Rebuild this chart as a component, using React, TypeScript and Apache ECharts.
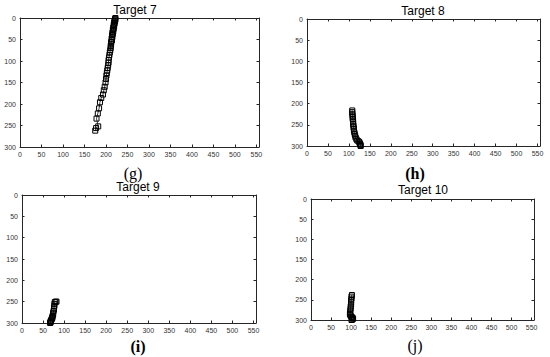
import React, { useEffect, useRef } from "react";
import * as echarts from "echarts";

const xTickValues = [0, 50, 100, 150, 200, 250, 300, 350, 400, 450, 500, 550];
const yTickValues = [0, 50, 100, 150, 200, 250, 300];

const titles = ["Target 7", "Target 8", "Target 9", "Target 10"];
const captions = ["(g)", "(h)", "(i)", "(j)"];

const target7X = [222, 221, 222, 220, 221, 219, 220, 218, 219, 217, 218, 216, 217, 215, 216, 214, 215, 213, 214, 212, 212, 211, 211, 210, 209, 208, 207, 206, 206, 205, 204, 203, 202, 201, 200, 199, 197, 195, 193, 189, 186, 184, 181, 178, 182, 177, 175];
const target7Y = [0, 2, 4, 6, 8, 10, 13, 16, 19, 22, 25, 28, 31, 34, 37, 40, 44, 48, 52, 56, 60, 65, 70, 75, 80, 86, 92, 98, 104, 110, 116, 122, 128, 134, 142, 150, 160, 168, 178, 186, 196, 210, 222, 234, 252, 256, 262];

const target8X = [108, 108, 108, 109, 109, 109, 110, 110, 110, 111, 111, 112, 112, 113, 114, 115, 116, 118, 120, 123, 125, 126, 127, 128, 128];
const target8Y = [216, 220, 224, 228, 232, 236, 240, 244, 248, 252, 256, 260, 264, 268, 272, 276, 280, 284, 287, 289, 291, 294, 296, 298, 300];

const target9X = [82, 80, 78, 77, 77, 76, 76, 75, 74, 74, 73, 72, 72, 71, 70, 69, 68, 68, 67, 67];
const target9Y = [250, 250, 251, 255, 260, 264, 268, 272, 276, 280, 283, 286, 288, 290, 292, 294, 296, 298, 299, 300];

const target10X = [102, 101, 101, 100, 100, 100, 99, 99, 98, 98, 97, 98, 100, 102, 104, 105, 103, 101];
const target10Y = [238, 242, 247, 251, 256, 261, 266, 271, 276, 281, 285, 288, 291, 293, 295, 297, 299, 300];

const seriesX = [target7X, target8X, target9X, target10X];
const seriesY = [target7Y, target8Y, target9Y, target10Y];

const X_MAX = 556;

// panel boxes: [left, top, width, height]
const boxes = [
  [20, 18, 239, 129],
  [307, 19, 233, 127],
  [22, 195, 234, 128],
  [311, 199, 223, 121],
];
const titlePos = [
  [135, 10],
  [423, 11],
  [138, 187],
  [423, 190],
];
const captionPos = [
  [133, 173],
  [415, 173],
  [138, 346],
  [415, 345],
];
const captionBold = [false, true, true, false];

export default function App() {
  const ref = useRef<HTMLDivElement>(null);
  useEffect(() => {
    if (!ref.current) return;
    const chart = echarts.init(ref.current, null, { renderer: "svg" });
    const axisColor = "#262626";
    const labelStyle = {
      fontFamily: "Liberation Sans, Arial, sans-serif",
      fontSize: 7,
      color: "#333",
    };
    const grids: any[] = [];
    const xAxes: any[] = [];
    const yAxes: any[] = [];
    const series: any[] = [];
    const graphics: any[] = [];
    boxes.forEach((b, i) => {
      grids.push({ left: b[0], top: b[1], width: b[2], height: b[3], containLabel: false });
      const xBase = {
        type: "value",
        gridIndex: i,
        min: 0,
        max: X_MAX,
        interval: 50,
        splitLine: { show: false },
        axisLine: { show: true, onZero: false, lineStyle: { color: axisColor, width: 1 } },
        axisTick: {
          show: true,
          inside: true,
          length: 2.5,
          lineStyle: { color: axisColor },
        },
      };
      xAxes.push({
        ...xBase,
        position: "bottom",
        axisLabel: {
          ...labelStyle,
          margin: 4,
          showMaxLabel: true,
          formatter: (v: number) => (xTickValues.includes(v) ? String(v) : ""),
        },
      });
      xAxes.push({ ...xBase, position: "top", axisLabel: { show: false } });
      const yBase = {
        type: "value",
        gridIndex: i,
        min: 0,
        max: 300,
        interval: 50,
        inverse: true,
        splitLine: { show: false },
        axisLine: { show: true, onZero: false, lineStyle: { color: axisColor, width: 1 } },
        axisTick: {
          show: true,
          inside: true,
          length: 2.5,
          lineStyle: { color: axisColor },
        },
      };
      yAxes.push({
        ...yBase,
        position: "left",
        axisLabel: {
          ...labelStyle,
          margin: 4,
          formatter: (v: number) => (yTickValues.includes(v) ? String(v) : ""),
        },
      });
      yAxes.push({ ...yBase, position: "right", axisLabel: { show: false } });
      const data = seriesX[i].map((x, k) => [x, seriesY[i][k]]);
      series.push({
        type: "line",
        xAxisIndex: i * 2,
        yAxisIndex: i * 2,
        data,
        symbol: "rect",
        symbolSize: 5,
        showSymbol: true,
        showAllSymbol: true,
        itemStyle: { color: "rgba(0,0,0,0)", borderColor: "#000", borderWidth: 1 },
        lineStyle: { color: "#000", width: 0.8 },
        emphasis: { disabled: true },
      });
      graphics.push({
        type: "text",
        x: titlePos[i][0],
        y: titlePos[i][1],
        style: {
          text: titles[i],
          fontFamily: "Liberation Sans, Arial, sans-serif",
          fontSize: 12,
          fill: "#000",
          textAlign: "center",
          textVerticalAlign: "middle",
        },
      });
      graphics.push({
        type: "text",
        x: captionPos[i][0],
        y: captionPos[i][1],
        style: {
          text: captions[i],
          fontFamily: "Liberation Serif, Times New Roman, serif",
          fontSize: 16,
          fontWeight: captionBold[i] ? "bold" : "normal",
          fill: "#000",
          textAlign: "center",
          textVerticalAlign: "middle",
        },
      });
    });
    chart.setOption({
      animation: false,
      backgroundColor: "#fff",
      grid: grids,
      xAxis: xAxes,
      yAxis: yAxes,
      series,
      graphic: graphics,
    });
    return () => chart.dispose();
  }, []);
  return (
    <div
      ref={ref}
      style={{ position: "fixed", left: 0, top: 0, width: 550, height: 357 }}
    />
  );
}
